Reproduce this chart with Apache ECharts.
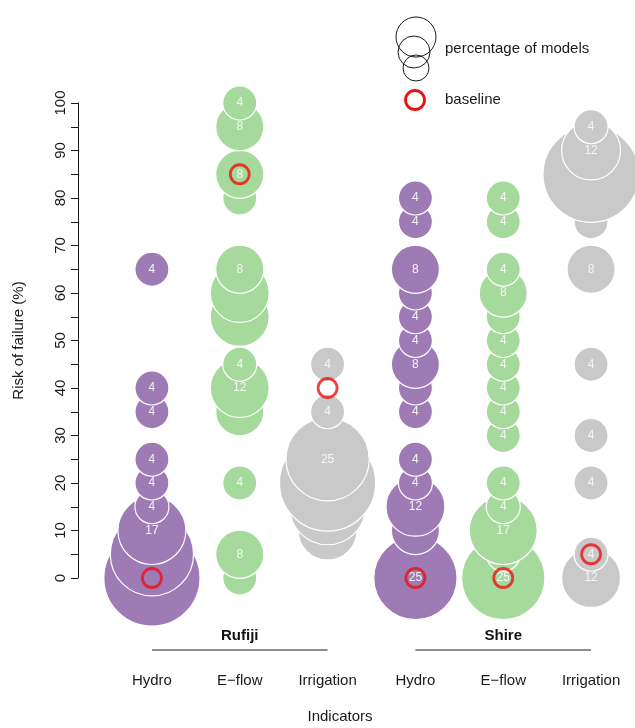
<!DOCTYPE html>
<html>
<head>
<meta charset="utf-8">
<script src="https://cdn.jsdelivr.net/npm/echarts@6/dist/echarts.min.js"></script>
<style>
  html, body { margin:0; padding:0; background:#fff; }
  #chart { width:635px; height:728px; }
</style>
</head>
<body>
<div id="chart"></div>
<script>
// ====== data ======
// six columns: Rufiji (Hydro, E-flow, Irrigation), Shire (Hydro, E-flow, Irrigation)
const categoryKeys    = ['Rufiji Hydro','Rufiji E-flow','Rufiji Irrigation','Shire Hydro','Shire E-flow','Shire Irrigation'];
const indicatorLabels = ['Hydro','E\u2212flow','Irrigation','Hydro','E\u2212flow','Irrigation'];
const groupLabels     = ['','Rufiji','','','Shire',''];
const yTicks          = [0,10,20,30,40,50,60,70,80,90,100];

// risk of failure (%) / number of models (out of 24) / printed label
const rufijiHydroRisk   = [0,5,10,15,20,25,35,40,65];
const rufijiHydroCount  = [8,6,4,1,1,1,1,1,1];
const rufijiHydroLabel  = ['','','17','4','4','4','4','4','4'];

const rufijiEflowRisk   = [0,5,20,35,40,45,55,60,65,80,85,95,100];
const rufijiEflowCount  = [1,2,1,2,3,1,3,3,2,1,2,2,1];
const rufijiEflowLabel  = ['','8','4','','12','4','','','8','','8','8','4'];

const rufijiIrrRisk     = [10,15,20,25,35,45];
const rufijiIrrCount    = [3,5,8,6,1,1];
const rufijiIrrLabel    = ['','','','25','4','4'];

const shireHydroRisk    = [0,10,15,20,25,35,40,45,50,55,60,65,75,80];
const shireHydroCount   = [6,2,3,1,1,1,1,2,1,1,1,2,1,1];
const shireHydroLabel   = ['25','','12','4','4','4','','8','4','4','','8','4','4'];

const shireEflowRisk    = [0,5,10,15,20,30,35,40,45,50,55,60,65,75,80];
const shireEflowCount   = [6,1,4,1,1,1,1,1,1,1,1,2,1,1,1];
const shireEflowLabel   = ['25','','17','4','4','4','4','4','4','4','','8','4','4','4'];

const shireIrrRisk      = [0,5,20,30,45,65,75,80,85,90,95];
const shireIrrCount     = [3,1,1,1,1,2,1,2,8,3,1];
const shireIrrLabel     = ['12','4','4','4','4','8','','','','12','4'];

const baselineRisk      = [0,85,40,0,0,5];

// ====== styles ======
const PURPLE = '#9e7bb5', GREEN = '#a6d99c', GREY = '#c9c9c9';
const FONT = '"Liberation Sans", Arial, sans-serif';
const INK = '#1a1a1a';

function bubbleData(ci, risk, count, labels){
  return risk.map((r,k) => ({ value:[ci, r, count[k]], name: labels[k] }));
}

function bubbleSeries(ci, risk, count, labels, color){
  return {
    type:'scatter',
    xAxisIndex:0, yAxisIndex:0,
    clip:false,
    silent:true,
    data: bubbleData(ci, risk, count, labels),
    symbolSize: (v) => 34 * Math.sqrt(v[2]),
    itemStyle:{ color, borderColor:'#ffffff', borderWidth:1.2, opacity:1 },
    label:{ show:true, position:'inside', formatter:(p)=>p.name,
            color:'#f6f6f6', fontSize:12, fontFamily:FONT },
    emphasis:{ disabled:true }
  };
}

const chart = echarts.init(document.getElementById('chart'), null, { renderer:'canvas' });

const series = [
  bubbleSeries(0, rufijiHydroRisk, rufijiHydroCount, rufijiHydroLabel, PURPLE),
  bubbleSeries(1, rufijiEflowRisk, rufijiEflowCount, rufijiEflowLabel, GREEN),
  bubbleSeries(2, rufijiIrrRisk,   rufijiIrrCount,   rufijiIrrLabel,   GREY),
  bubbleSeries(3, shireHydroRisk,  shireHydroCount,  shireHydroLabel,  PURPLE),
  bubbleSeries(4, shireEflowRisk,  shireEflowCount,  shireEflowLabel,  GREEN),
  bubbleSeries(5, shireIrrRisk,    shireIrrCount,    shireIrrLabel,    GREY),
  {
    type:'scatter', name:'baseline', clip:false, silent:true, z:5,
    data: baselineRisk.map((r,i)=>[i,r]),
    symbol:'circle', symbolSize:19,
    itemStyle:{ color:'rgba(0,0,0,0)', borderColor:'#ee1111', borderWidth:2.8 }
  }
];

chart.setOption({
  animation:false,
  backgroundColor:'#ffffff',
  textStyle:{ fontFamily:FONT },
  grid:{ left:108, right:-4, top:103, bottom:150, containLabel:false },
  xAxis:[
    {
      type:'category', data:categoryKeys,
      axisLine:{ show:false }, axisTick:{ show:false },
      axisLabel:{ interval:0, margin:95, fontSize:15, color:INK, fontFamily:FONT,
                  formatter:(v,i)=>indicatorLabels[i] }
    },
    {
      type:'category', data:categoryKeys, position:'bottom',
      axisLine:{ show:false }, axisTick:{ show:false },
      axisLabel:{ interval:0, margin:50, fontSize:15, fontWeight:'bold', color:'#111', fontFamily:FONT,
                  formatter:(v,i)=>groupLabels[i] }
    }
  ],
  yAxis:{
    type:'value', min:0, max:100, interval:5, offset:30,
    name:'Risk of failure (%)', nameLocation:'middle', nameRotate:90, nameGap:52,
    nameTextStyle:{ fontSize:15, color:INK, fontFamily:FONT },
    axisLine:{ show:true, lineStyle:{ color:INK, width:1 } },
    axisTick:{ show:true, length:7, lineStyle:{ color:INK, width:1 } },
    axisLabel:{ rotate:90, margin:10, fontSize:15, color:INK, fontFamily:FONT,
                formatter:(v)=> yTicks.includes(v) ? String(v) : '' },
    splitLine:{ show:false }
  },
  series
});

// group underlines + legend + axis title, placed after layout
const p = (i) => chart.convertToPixel({ xAxisIndex:0 }, i);
const lineY = 650;
chart.setOption({
  graphic:[
    { type:'line', shape:{ x1:p(0), y1:lineY, x2:p(2), y2:lineY }, style:{ stroke:INK, lineWidth:1 } },
    { type:'line', shape:{ x1:p(3), y1:lineY, x2:p(5), y2:lineY }, style:{ stroke:INK, lineWidth:1 } },
    { type:'text', x:340, y:717, style:{ text:'Indicators', font:'15px '+FONT, fill:INK, align:'center', verticalAlign:'middle' } },
    // legend: percentage of models
    { type:'circle', shape:{ cx:416, cy:37, r:20 }, style:{ fill:'none', stroke:INK, lineWidth:1 } },
    { type:'circle', shape:{ cx:414, cy:52, r:16 }, style:{ fill:'none', stroke:INK, lineWidth:1 } },
    { type:'circle', shape:{ cx:416, cy:68, r:13 }, style:{ fill:'none', stroke:INK, lineWidth:1 } },
    { type:'text', x:445, y:49, style:{ text:'percentage of models', font:'15px '+FONT, fill:INK, align:'left', verticalAlign:'middle' } },
    // legend: baseline
    { type:'circle', shape:{ cx:415, cy:100, r:9.5 }, style:{ fill:'none', stroke:'#ee1111', lineWidth:2.8 } },
    { type:'text', x:445, y:100, style:{ text:'baseline', font:'15px '+FONT, fill:INK, align:'left', verticalAlign:'middle' } }
  ]
});
</script>
</body>
</html>
